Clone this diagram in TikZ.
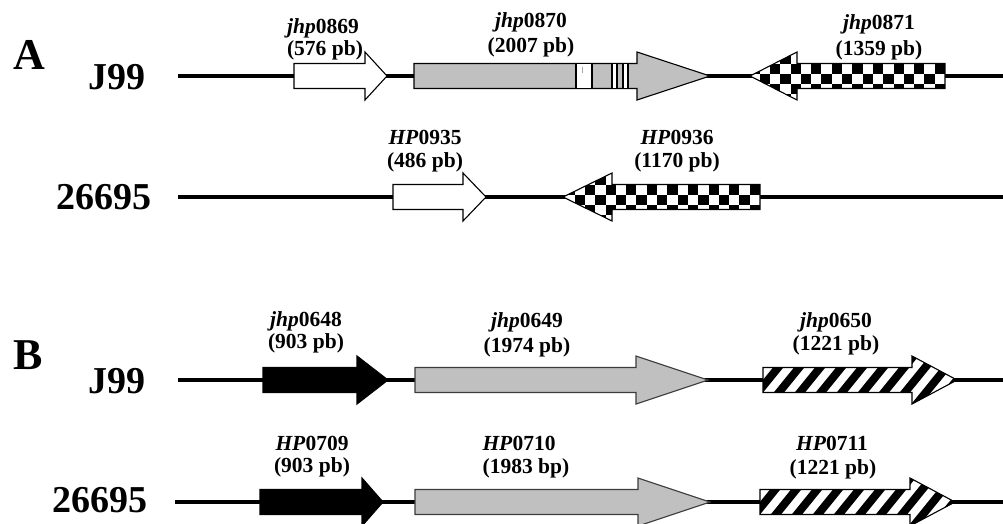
\documentclass[tikz,border=0pt]{standalone}
\usepackage{fontspec}
\setmainfont{Liberation Serif}
\definecolor{genegray}{RGB}{192,192,192}
\definecolor{edgegray}{RGB}{60,60,60}
% #1 options, #2 body end, #3 head base, #4 tip, #5 centre y
\newcommand\genearrow[5][]{%
  \draw[#1] (#2,#5-12.5) -- (#3,#5-12.5) -- (#3,#5-24) -- (#4,#5) -- (#3,#5+24) -- (#3,#5+12.5) -- (#2,#5+12.5) -- cycle;}
\newcommand\geneclip[4]{%
  \clip (#1,#4-12.5) -- (#2,#4-12.5) -- (#2,#4-24) -- (#3,#4) -- (#2,#4+24) -- (#2,#4+12.5) -- (#1,#4+12.5) -- cycle;}
% checkerboard gene pointing left: #1 right end, #2 head base, #3 tip, #4 centre y
\newcommand\checkergene[4]{%
  \begin{scope}
    \geneclip{#1}{#2}{#3}{#4}
    \fill[white] (#3-2,#4-30) rectangle (#1+2,#4+30);
    \foreach \i in {0,...,20}{\foreach \j in {-3,...,3}{%
      \pgfmathtruncatemacro\chkpar{mod(\i+\j+20,2)}%
      \ifnum\chkpar=0
        \fill[black] (#1-\i*10.3-10.3,#4-12.5+\j*10.3) rectangle (#1-\i*10.3,#4-12.5+\j*10.3+10.3);
      \fi}}
  \end{scope}
  \genearrow[geneline]{#1}{#2}{#3}{#4}}
% hatched gene pointing right: #1 start, #2 head base, #3 tip, #4 centre y
\newcommand\hatchgene[4]{%
  \begin{scope}
    \geneclip{#1}{#2}{#3}{#4}
    \fill[white] (#1-2,#4-30) rectangle (#3+2,#4+30);
    \foreach \k in {-4,...,12}{%
      \draw[line width=8pt] (#1+\k*21,#4+32) -- ++(52,-64);}
  \end{scope}
  \genearrow[geneline]{#1}{#2}{#3}{#4}}
\begin{document}
\begin{tikzpicture}[x=1pt,y=-1pt,
  genome/.style={line width=3.8pt},
  geneline/.style={line width=1.1pt,draw=black},
  lbl/.style={font=\bfseries\fontsize{21.5}{24}\selectfont,inner sep=0pt},
  strain/.style={font=\bfseries\fontsize{38}{42}\selectfont,inner sep=0pt},
  panel/.style={font=\bfseries\fontsize{44}{48}\selectfont,inner sep=0pt}]
\useasboundingbox (0,0) rectangle (1003,523);

% panel letters and strain names
\node[panel] (pA) at (29,55) {A};
\node[panel] (pB) at (28,355) {B};
\node[strain] (sA1) at (117,77) {J99};
\node[strain] (sA2) at (104,197) {26695};
\node[strain] (sB1) at (117,381) {J99};
\node[strain] (sB2) at (100,500) {26695};

% genome lines
\coordinate (a1s) at (178,76);  \coordinate (a1e) at (1003,76);
\coordinate (a2s) at (178,197); \coordinate (a2e) at (1003,197);
\coordinate (b1s) at (178,380); \coordinate (b1e) at (1003,380);
\coordinate (b2s) at (175,502); \coordinate (b2e) at (1003,502);
\draw[genome] (a1s) -- (a1e);
\draw[genome] (a2s) -- (a2e);
\draw[genome] (b1s) -- (b1e);
\draw[genome] (b2s) -- (b2e);

% ---- panel A, J99
\genearrow[geneline,fill=white]{294}{365}{387}{76}
\genearrow[geneline,fill=genegray]{414}{637}{710}{76}
\draw[geneline,fill=white] (576,63.5) rectangle (592,88.5);
\draw[gray!70,line width=0.6pt] (582,67) -- (582,73);
\draw[geneline,fill=white] (612,63.5) rectangle (617,88.5);
\draw[geneline,fill=white] (623,63.5) rectangle (628,88.5);
\checkergene{945}{797}{750}{76}

% ---- panel A, 26695
\genearrow[geneline,fill=white]{393}{463}{486}{197}
\checkergene{760}{612}{563}{197}

% ---- panel B, J99
\genearrow[geneline,fill=black]{263}{357}{388}{380}
\genearrow[geneline,draw=edgegray,fill=genegray]{415}{636}{708}{380}
\hatchgene{763}{912}{957}{380}

% ---- panel B, 26695
\genearrow[geneline,fill=black]{260}{362}{383}{502}
\genearrow[geneline,draw=edgegray,fill=genegray]{415}{638}{710}{502}
\hatchgene{760}{910}{955}{502}

% gene labels
\node[lbl] (n1) at (323,28) {\textit{jhp}0869};
\node[lbl] (z1) at (325,50) {(576 pb)};
\node[lbl] (n2) at (531,22) {\textit{jhp}0870};
\node[lbl] (z2) at (531,47) {(2007 pb)};
\node[lbl] (n3) at (879,24) {\textit{jhp}0871};
\node[lbl] (z3) at (879,50) {(1359 pb)};
\node[lbl] (n4) at (425,137) {\textit{HP}0935};
\node[lbl] (z4) at (425,162) {(486 pb)};
\node[lbl] (n5) at (677,137) {\textit{HP}0936};
\node[lbl] (z5) at (677,162) {(1170 pb)};
\node[lbl] (n6) at (306,321) {\textit{jhp}0648};
\node[lbl] (z6) at (306,343) {(903 pb)};
\node[lbl] (n7) at (527,322) {\textit{jhp}0649};
\node[lbl] (z7) at (527,347) {(1974 pb)};
\node[lbl] (n8) at (836,322) {\textit{jhp}0650};
\node[lbl] (z8) at (836,345) {(1221 pb)};
\node[lbl] (n9) at (312,443) {\textit{HP}0709};
\node[lbl] (z9) at (312,467) {(903 pb)};
\node[lbl] (n10) at (519,443) {\textit{HP}0710};
\node[lbl] (z10) at (526,468) {(1983 bp)};
\node[lbl] (n11) at (832,443) {\textit{HP}0711};
\node[lbl] (z11) at (833,469) {(1221 pb)};
\end{tikzpicture}
\end{document}
